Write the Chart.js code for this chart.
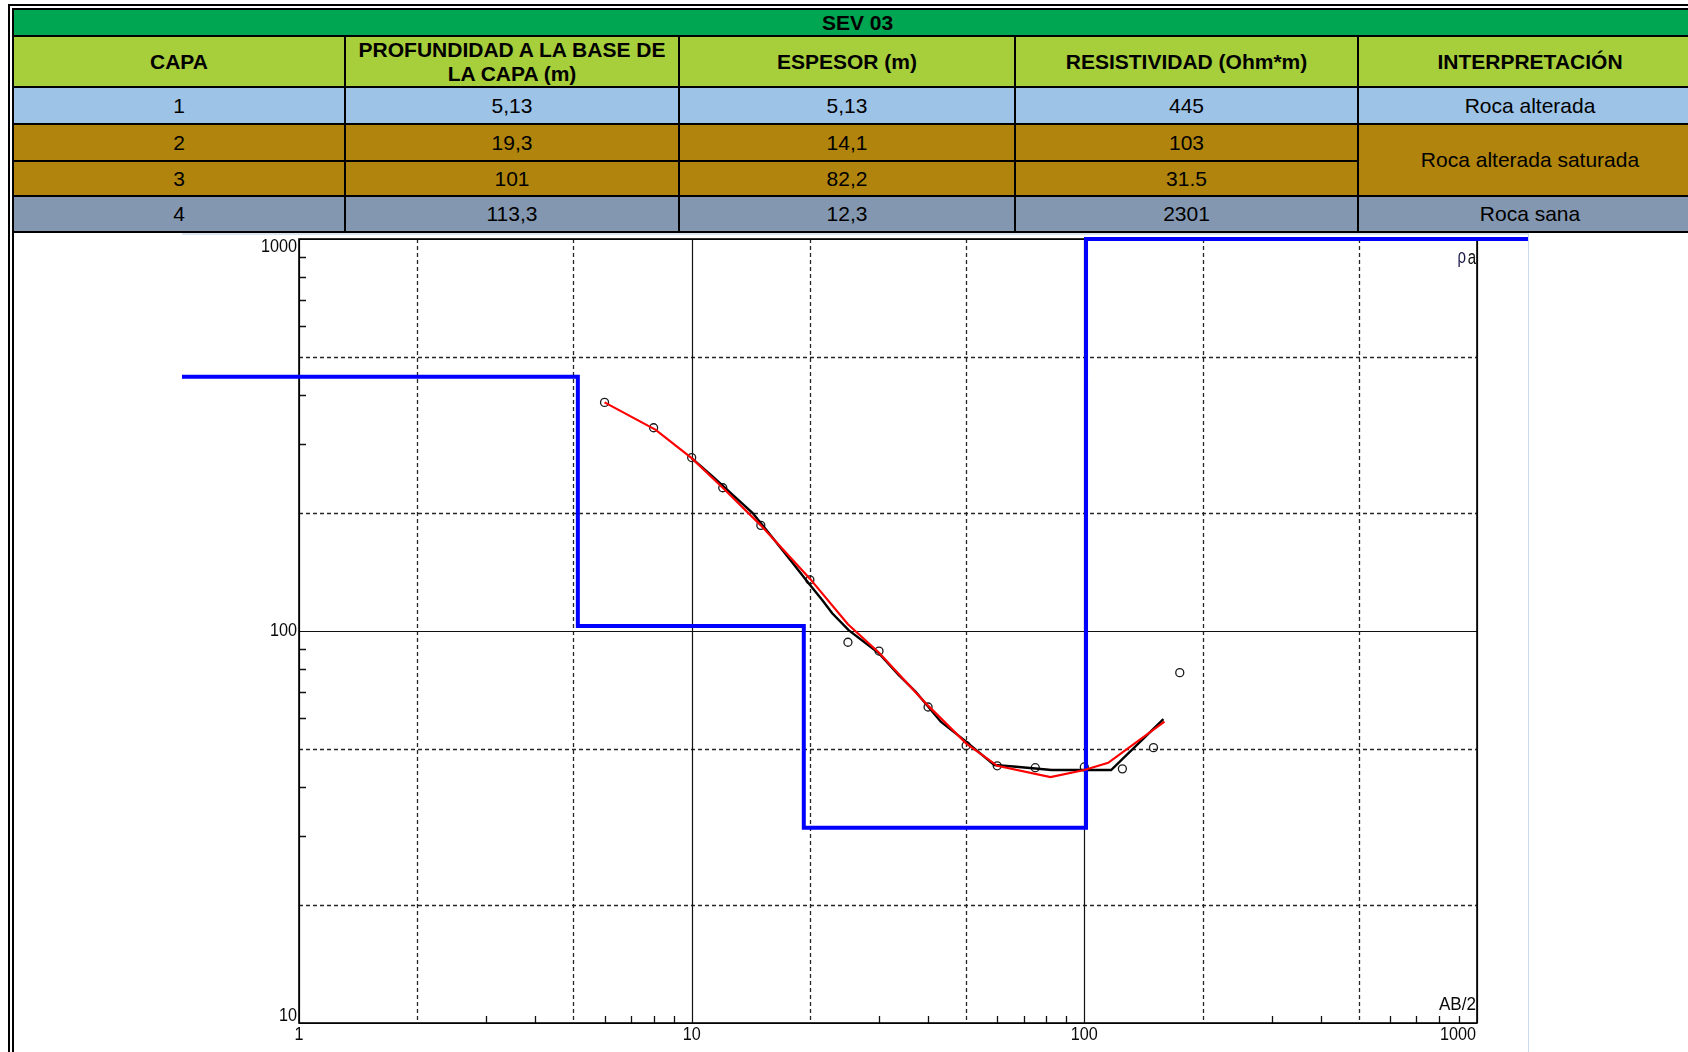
<!DOCTYPE html>
<html lang="es">
<head>
<meta charset="utf-8">
<title>SEV 03</title>
<script src="https://cdn.jsdelivr.net/npm/chart.js@4.4.1/dist/chart.umd.min.js"></script>
<style>
  html, body { margin: 0; padding: 0; background: #fff; width: 1688px; height: 1052px; overflow: hidden; }
  body { position: relative; font-family: "Liberation Sans", Arial, sans-serif; }
  .marco-ext { position: absolute; left: 8px; top: 4px; width: 1800px; height: 1100px; border-left: 2px solid #000; border-top: 2px solid #000; }
  .marco-int { position: absolute; left: 12px; top: 8px; width: 1800px; height: 1100px; border-left: 2px solid #000; }
  #tabla { position: absolute; left: 12px; top: 8px; width: 1691px; height: 225px; background: #000; }
  .celda { position: absolute; box-sizing: border-box; padding: 0 6px; display: flex; align-items: center; justify-content: center;
           text-align: center; font-size: 21px; line-height: 1.13; color: #000; }
  .cab { font-weight: bold; }
  #marco-grafico { position: absolute; left: 182px; top: 233px; width: 1347px; height: 830px; box-sizing: border-box;
                   border-top: 2px solid #dbe5f2; border-right: 1px solid #c9daf0; }
  #grafico { position: absolute; left: 182px; top: 233px; }
</style>
</head>
<body>
<div class="marco-ext"></div>
<div class="marco-int"></div>
<div id="tabla"></div>
<div id="marco-grafico"></div>
<canvas id="grafico" width="1346" height="819"></canvas>

<script>
// --- Tabla de interpretación ---
const titulo = "SEV 03";
const encabezados = ["CAPA", "PROFUNDIDAD A LA BASE DE LA CAPA (m)", "ESPESOR (m)", "RESISTIVIDAD (Ohm*m)", "INTERPRETACIÓN"];
const capas = ["1", "2", "3", "4"];
const profundidades = ["5,13", "19,3", "101", "113,3"];
const espesores = ["5,13", "14,1", "82,2", "12,3"];
const resistividades = ["445", "103", "31.5", "2301"];
const interpretaciones = ["Roca alterada", "Roca alterada saturada", "Roca sana"];
const filasInterpretacion = [1, 2, 1];

// --- Curvas del sondeo (AB/2 en m, resistividad aparente en Ohm*m) ---
const abMedido = [6, 8, 10, 12, 15, 20, 25, 30, 40, 50, 60, 75, 100, 125, 150, 175];
const rhoMedido = [383, 330, 277, 232, 186, 135, 93.6, 88.9, 64, 51, 45.3, 44.8, 45, 44.5, 50.4, 78.3];

const abCalculado = [6, 8.1, 10, 12, 15, 20, 25, 30, 40, 50, 60, 82, 100, 115, 160];
const rhoCalculado = [383, 326, 276, 232, 186, 136, 104, 88, 64.5, 51.7, 45.3, 42.4, 44.2, 46.1, 58.7];

const abSuavizado = [10, 11.3, 14.3, 16, 18, 19.9, 21.5, 22.8, 25.1, 30, 33.7, 37.2, 43.1, 50, 59, 66, 82.5, 117, 159];
const rhoSuavizado = [276, 248, 200, 174, 150, 132, 120, 111, 100.5, 87.7, 77.2, 70, 58.7, 52.2, 45.5, 45.1, 44.2, 44.2, 59.6];

// extensión horizontal del modelo de capas
const abModeloMin = 0.1;
const abModeloMax = 10000;

// --- Ejes log-log ---
const xMin = 1, xMax = 1000, yMin = 10, yMax = 1000;
const xDecadas = [1, 10, 100, 1000];
const yDecadas = [10, 100, 1000];
const xDiscontinuas = [2, 5, 20, 50, 200, 500];
const yDiscontinuas = [20, 50, 200, 500];
const xMenores = [3, 4, 6, 7, 8, 9, 30, 40, 60, 70, 80, 90, 300, 400, 600, 700, 800, 900];
const yMenores = [30, 40, 60, 70, 80, 90, 300, 400, 600, 700, 800, 900];

const num = s => parseFloat(s.replace(",", "."));

// colores de fila por capa
const coloresCapa = ["#9dc3e6", "#b1850d", "#b1850d", "#8497b0"];
const verdeTitulo = "#00a651";
const limaCabecera = "#a7cf3b";

// ---------- tabla ----------
const tabla = document.getElementById("tabla");
const colX = [12, 344, 678, 1014, 1357, 1701];   // borde izquierdo de cada línea de 2px
const rowY = [8, 35, 86, 123, 160, 195, 231];

function celda(c0, c1, r0, r1, fondo, texto, clase) {
  const d = document.createElement("div");
  d.className = "celda" + (clase ? " " + clase : "");
  d.style.left = (colX[c0] + 2 - colX[0]) + "px";
  d.style.top = (rowY[r0] + 2 - rowY[0]) + "px";
  d.style.width = (colX[c1] - colX[c0] - 2) + "px";
  d.style.height = (rowY[r1] - rowY[r0] - 2) + "px";
  d.style.background = fondo;
  d.textContent = texto;
  tabla.appendChild(d);
}

celda(0, 5, 0, 1, verdeTitulo, titulo, "cab");
encabezados.forEach((t, i) => celda(i, i + 1, 1, 2, limaCabecera, t, "cab"));
capas.forEach((c, k) => {
  const fila = k + 2;
  celda(0, 1, fila, fila + 1, coloresCapa[k], c);
  celda(1, 2, fila, fila + 1, coloresCapa[k], profundidades[k]);
  celda(2, 3, fila, fila + 1, coloresCapa[k], espesores[k]);
  celda(3, 4, fila, fila + 1, coloresCapa[k], resistividades[k]);
});
let filaInt = 2, capaInt = 0;
interpretaciones.forEach((t, i) => {
  const n = filasInterpretacion[i];
  celda(4, 5, filaInt, filaInt + n, coloresCapa[capaInt], t);
  filaInt += n;
  capaInt += n;
});

// ---------- gráfico ----------
const pares = (xs, ys) => xs.map((x, i) => ({ x: x, y: ys[i] }));

// modelo escalonado: resistividad de cada capa hasta su profundidad de base
function modeloCapas() {
  const bases = profundidades.slice(0, resistividades.length - 1).map(num);
  const rhos = resistividades.map(num).map(r => Math.min(r, yMax));
  const pts = [{ x: abModeloMin, y: rhos[0] }];
  bases.forEach((b, i) => {
    pts.push({ x: b, y: rhos[i] });
    pts.push({ x: b, y: rhos[i + 1] });
  });
  pts.push({ x: abModeloMax, y: rhos[rhos.length - 1] });
  return pts;
}

function textoEstrecho(ctx, s, x, y, align, escala) {
  ctx.save();
  ctx.translate(x, y);
  ctx.scale(escala, 1);
  ctx.textAlign = align;
  ctx.fillText(s, 0, 0);
  ctx.restore();
}

const rejillaLog = {
  id: "rejillaLog",
  beforeDatasetsDraw(chart) {
    const { ctx, chartArea: a, scales: { x, y } } = chart;
    const px = v => Math.round(x.getPixelForValue(v)) + 0.5;
    const py = v => Math.round(y.getPixelForValue(v)) + 0.5;
    ctx.save();

    // líneas discontinuas en 2 y 5
    ctx.strokeStyle = "#262626";
    ctx.lineWidth = 1.3;
    ctx.setLineDash([4, 3]);
    ctx.beginPath();
    xDiscontinuas.forEach(v => { ctx.moveTo(px(v), a.top); ctx.lineTo(px(v), a.bottom); });
    yDiscontinuas.forEach(v => { ctx.moveTo(a.left, py(v)); ctx.lineTo(a.right, py(v)); });
    ctx.stroke();
    ctx.setLineDash([]);

    // décadas
    ctx.strokeStyle = "#111";
    ctx.lineWidth = 1.2;
    ctx.beginPath();
    xDecadas.forEach(v => { ctx.moveTo(px(v), a.top); ctx.lineTo(px(v), a.bottom); });
    yDecadas.forEach(v => { ctx.moveTo(a.left, py(v)); ctx.lineTo(a.right, py(v)); });
    ctx.stroke();

    // marcas menores hacia dentro
    ctx.lineWidth = 1.3;
    ctx.beginPath();
    xMenores.forEach(v => { ctx.moveTo(px(v), a.bottom); ctx.lineTo(px(v), a.bottom - 7); });
    yMenores.forEach(v => { ctx.moveTo(a.left, py(v)); ctx.lineTo(a.left + 7, py(v)); });
    ctx.stroke();

    // marco
    ctx.lineWidth = 1.6;
    ctx.strokeStyle = "#000";
    ctx.strokeRect(a.left, a.top, a.right - a.left, a.bottom - a.top);

    // rótulos
    ctx.fillStyle = "#0a0a0a";
    ctx.font = '18px "Liberation Sans", Arial, sans-serif';
    ctx.textBaseline = "middle";
    yDecadas.forEach(v => {
      const yy = Math.min(Math.max(y.getPixelForValue(v), a.top + 8), a.bottom - 7);
      textoEstrecho(ctx, String(v), a.left - 2, yy, "right", 0.9);
    });
    xDecadas.forEach(v => {
      const s = String(v);
      const w = ctx.measureText(s).width * 0.9;
      const xx = Math.min(x.getPixelForValue(v), a.right - 1 - w / 2);
      textoEstrecho(ctx, s, xx, a.bottom + 12, "center", 0.9);
    });

    ctx.textBaseline = "alphabetic";
    textoEstrecho(ctx, "AB/2", a.right - 1, a.bottom - 13, "right", 0.95);
    ctx.font = '20px "Liberation Sans", Arial, sans-serif';
    ctx.fillStyle = "#1a1a4a";
    textoEstrecho(ctx, "ρ", a.right - 11, a.top + 24, "right", 0.75);
    ctx.fillStyle = "#111";
    textoEstrecho(ctx, "a", a.right - 1, a.top + 25, "right", 0.75);

    ctx.restore();
  }
};

new Chart(document.getElementById("grafico"), {
  type: "scatter",
  data: {
    datasets: [
      {
        label: "Curva calculada",
        data: pares(abCalculado, rhoCalculado),
        showLine: true,
        borderColor: "#ff0000",
        borderWidth: 2.2,
        pointRadius: 0
      },
      {
        label: "Modelo",
        data: modeloCapas(),
        showLine: true,
        borderColor: "#0000ff",
        borderWidth: 4,
        pointRadius: 0,
        borderJoinStyle: "miter",
        clip: false
      },
      {
        label: "Curva suavizada",
        data: pares(abSuavizado, rhoSuavizado),
        showLine: true,
        borderColor: "#000000",
        borderWidth: 2.4,
        pointRadius: 0
      },
      {
        label: "Datos de campo",
        data: pares(abMedido, rhoMedido),
        showLine: false,
        pointRadius: 4,
        pointBorderWidth: 1.3,
        pointBorderColor: "#1a1a1a",
        pointBackgroundColor: "rgba(0,0,0,0)"
      }
    ]
  },
  options: {
    responsive: false,
    animation: false,
    events: [],
    layout: { autoPadding: false, padding: { left: 117, right: 51, top: 6, bottom: 29 } },
    scales: {
      x: { type: "logarithmic", min: xMin, max: xMax, display: false },
      y: { type: "logarithmic", min: yMin, max: yMax, display: false }
    },
    plugins: {
      legend: { display: false },
      tooltip: { enabled: false }
    }
  },
  plugins: [rejillaLog]
});
</script>
</body>
</html>
